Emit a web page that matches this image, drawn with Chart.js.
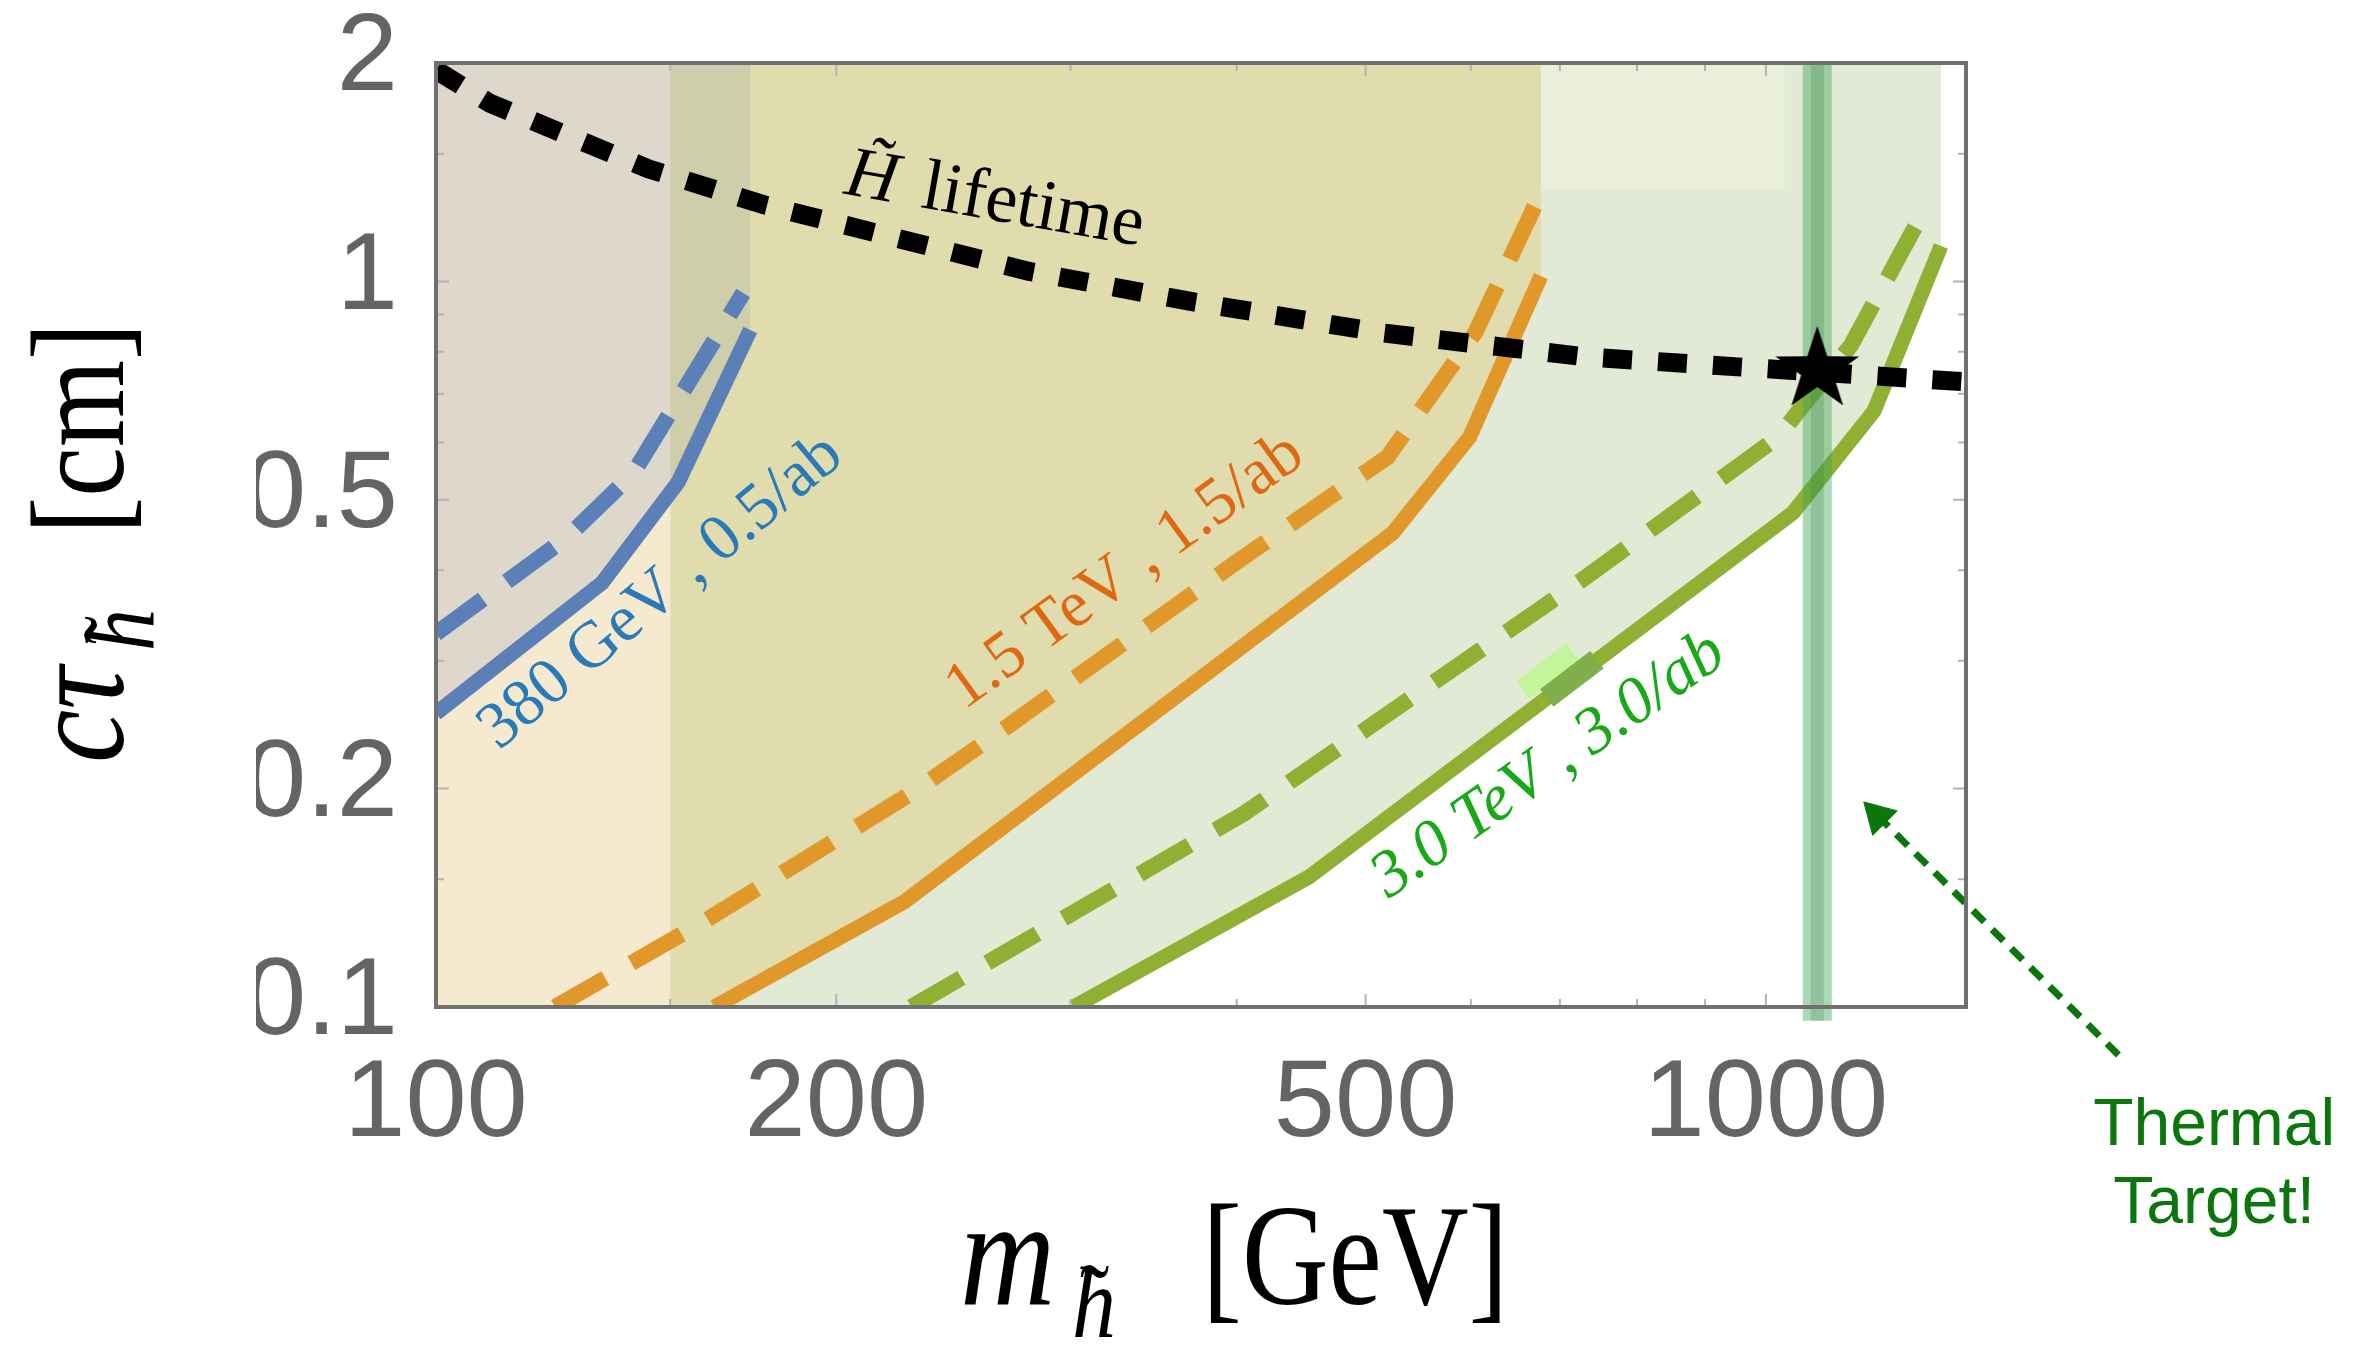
<!DOCTYPE html>
<html>
<head>
<meta charset="utf-8">
<title>Higgsino lifetime reach</title>
<script src="https://cdn.jsdelivr.net/npm/chart.js"></script>
<style>
html,body{margin:0;padding:0;background:#ffffff;overflow:hidden;}
#wrap{position:relative;width:2368px;height:1347px;}
canvas{display:block;}
</style>
</head>
<body>
<div id="wrap"><canvas id="chart" width="2368" height="1347"></canvas></div>
<script>
// ===== values =====
const xTickValues = [100, 200, 500, 1000];
const xTickLabels = ['100', '200', '500', '1000'];
const xMinorValues = [150, 300, 400, 600, 700, 800, 900];
const yTickValues = [0.1, 0.2, 0.5, 1, 2];
const yTickLabels = ['0.1', '0.2', '0.5', '1', '2'];
const yMinorValues = [0.15, 0.3, 0.4, 0.6, 0.7, 0.8, 0.9, 1.5];

// 380 GeV, 0.5/ab
const blueSolidM  = [100, 133.3, 152.1, 172.3];
const blueSolidCt = [0.254, 0.384, 0.529, 0.857];
const blueDashM   = [100, 125.5, 140.7, 170.2];
const blueDashCt  = [0.327, 0.444, 0.544, 0.964];

// 1.5 TeV, 1.5/ab
const orangeSolidM  = [161.9, 224.9, 524.1, 598.7, 677.3];
const orangeSolidCt = [0.1, 0.1396, 0.450, 0.610, 1.017];
const orangeDashM   = [122.9, 159.7, 227.7, 269.4, 395.8, 519.5, 605.0, 677.3];
const orangeDashCt  = [0.1, 0.1318, 0.197, 0.244, 0.405, 0.573, 0.852, 1.324];

// 3.0 TeV, 3.0/ab
const greenSolidM  = [301.6, 453.1, 1048, 1206, 1354];
const greenSolidCt = [0.1, 0.151, 0.480, 0.663, 1.119];
const greenDashM   = [227.7, 405.5, 732.1, 1021, 1159, 1249, 1319];
const greenDashCt  = [0.1, 0.185, 0.391, 0.610, 0.817, 1.053, 1.266];

// Higgsino lifetime
const lifetimeM  = [100, 109.8, 144.4, 176.8, 278.8, 371.2, 515.9, 732.1, 1093, 1414];
const lifetimeCt = [1.956, 1.760, 1.430, 1.274, 1.033, 0.937, 0.849, 0.787, 0.750, 0.727];

// shaded regions / patches
const lowMassM  = [100, 150];
const lowMassCt = [0.1, 0.1];
const regionStartM = [150];
const regionStartCt = [0.1];
const blueOverlapM  = [150, 152.1, 172.3];
const blueOverlapCt = [0.513, 0.529, 0.857];
const topPatchM  = [677.3, 1033];
const topPatchCt = [1.336, 1.336];
const markLightM  = [656.5, 715.8];
const markLightCt = [0.2735, 0.3085];
const markDarkM   = [684.3, 746.2];
const markDarkCt  = [0.2667, 0.3009];

// thermal target
const thermalM = [1093, 1093];
const thermalCt = [2, 0.0957];
const starM = [1093];
const starCt = [0.755];
const arrowM  = [1841, 1214];
const arrowCt = [0.0859, 0.1833];

// ===== helpers =====
const P = (xs, ys) => xs.map((x, i) => ({x, y: ys[i]}));
const layers = [];   // bottom -> top
function line(data, o) {
  layers.push(Object.assign({
    data, showLine: true, pointRadius: 0, pointHoverRadius: 0, pointHitRadius: 0,
    tension: 0, fill: false, borderCapStyle: 'butt', borderJoinStyle: 'miter'
  }, o));
}
function region(data, color) {
  line(data, {fill: 'end', backgroundColor: color, borderColor: 'rgba(0,0,0,0)', borderWidth: 0});
}
function makeStar(R, r) {
  const c = document.createElement('canvas');
  c.width = c.height = 2 * R + 4;
  const g = c.getContext('2d');
  g.translate(R + 2, R + 2);
  g.beginPath();
  for (let i = 0; i < 10; i++) {
    const rad = i % 2 ? r : R;
    const a = -Math.PI / 2 + i * Math.PI / 5;
    g.lineTo(rad * Math.cos(a), rad * Math.sin(a));
  }
  g.closePath();
  g.fillStyle = '#000';
  g.fill();
  return c;
}

const BLUE = '#5b80b7', ORANGE = '#e0982a', GREEN = '#8fb032';
const DASH = [58, 30];

region(P(regionStartM.concat(greenSolidM), regionStartCt.concat(greenSolidCt)), '#e2ead5');
region(P(regionStartM.concat(orangeSolidM), regionStartCt.concat(orangeSolidCt)), '#e0dcae');
region(P(topPatchM, topPatchCt), '#e9efd8');
region(P(lowMassM, lowMassCt), '#f5ead0');
region(P(blueSolidM, blueSolidCt), '#ded7cb');
region(P(blueOverlapM, blueOverlapCt), '#cfceaa');

line(P(blueDashM, blueDashCt), {borderColor: BLUE, borderWidth: 16, borderDash: DASH});
line(P(blueSolidM, blueSolidCt), {borderColor: BLUE, borderWidth: 15});
line(P(orangeDashM, orangeDashCt), {borderColor: ORANGE, borderWidth: 16, borderDash: DASH});
line(P(orangeSolidM, orangeSolidCt), {borderColor: ORANGE, borderWidth: 15});
line(P(markLightM, markLightCt), {borderColor: '#c3f59d', borderWidth: 22});
line(P(greenDashM, greenDashCt), {borderColor: GREEN, borderWidth: 16, borderDash: DASH});
line(P(greenSolidM, greenSolidCt), {borderColor: GREEN, borderWidth: 15});
line(P(markDarkM, markDarkCt), {borderColor: '#7fae4b', borderWidth: 22});
line(P(thermalM, thermalCt), {borderColor: 'rgba(62,168,88,0.45)', borderWidth: 29, clip: false});
line(P(thermalM, thermalCt), {borderColor: 'rgba(60,105,55,0.2)', borderWidth: 13, clip: false});
line(P(lifetimeM, lifetimeCt), {borderColor: '#000', borderWidth: 19, borderDash: [29, 26]});
layers.push({data: P(starM, starCt), showLine: false, pointStyle: makeStar(44, 17), pointRadius: 45, pointHoverRadius: 45});
line(P(arrowM, arrowCt), {borderColor: '#0b760b', borderWidth: 7, borderDash: [16, 11], clip: false});
layers.push({data: P(arrowM.slice(1), arrowCt.slice(1)), showLine: false, pointStyle: 'triangle',
  pointRadius: 20, pointHoverRadius: 20, rotation: -45, backgroundColor: '#0b760b', borderColor: '#0b760b', borderWidth: 1});
layers.forEach((d, i) => { d.order = layers.length - 1 - i; });

// curve labels (anchored in data coordinates)
const curveLabels = [
  {text: '380 GeV , 0.5/ab', m: 147.7, ct: 0.373, angle: -40, color: '#2a7ab9', font: '66px "Liberation Serif"'},
  {text: '1.5 TeV , 1.5/ab', m: 329.9, ct: 0.398, angle: -36, color: '#dd6a12', font: '66px "Liberation Serif"'},
  {text: '3.0 TeV , 3.0/ab', m: 686.8, ct: 0.215, angle: -35, color: '#18a818', font: 'italic 66px "Liberation Serif"'}
];

function stretched(ctx, s, x, y, font, sy) {
  ctx.save();
  ctx.translate(x, y);
  ctx.scale(1, sy);
  ctx.font = font;
  ctx.fillText(s, 0, 0);
  ctx.restore();
}

const decor = {
  id: 'decor',
  afterDatasetsDraw(chart) {
    const {ctx, chartArea: a} = chart;
    const xs = chart.scales.x, ys = chart.scales.y;
    ctx.save();
    // inward ticks on all four sides
    ctx.strokeStyle = '#b3b3b3';
    ctx.lineWidth = 2;
    ctx.beginPath();
    xTickValues.concat(xMinorValues).forEach(v => {
      const p = xs.getPixelForValue(v);
      const L = xTickValues.includes(v) ? 13 : 8;
      ctx.moveTo(p, a.bottom); ctx.lineTo(p, a.bottom - L);
      ctx.moveTo(p, a.top); ctx.lineTo(p, a.top + L);
    });
    yTickValues.concat(yMinorValues).forEach(v => {
      const p = ys.getPixelForValue(v);
      const L = yTickValues.includes(v) ? 13 : 8;
      ctx.moveTo(a.left, p); ctx.lineTo(a.left + L, p);
      ctx.moveTo(a.right, p); ctx.lineTo(a.right - L, p);
    });
    ctx.stroke();
    // frame
    ctx.strokeStyle = '#707070';
    ctx.lineWidth = 4;
    ctx.strokeRect(a.left, a.top, a.right - a.left, a.bottom - a.top);

    // curve labels
    curveLabels.forEach(l => {
      ctx.save();
      ctx.translate(xs.getPixelForValue(l.m), ys.getPixelForValue(l.ct));
      ctx.rotate(l.angle * Math.PI / 180);
      ctx.font = l.font;
      ctx.fillStyle = l.color;
      ctx.textAlign = 'center';
      ctx.textBaseline = 'middle';
      ctx.fillText(l.text, 0, 0);
      ctx.restore();
    });

    // H~ lifetime label (descends to the right, above the dotted line)
    ctx.save();
    ctx.translate(xs.getPixelForValue(263.4), ys.getPixelForValue(1.307));
    ctx.rotate(10 * Math.PI / 180);
    ctx.fillStyle = '#000';
    const fI = 'italic 72px "Liberation Serif"', fR = '72px "Liberation Serif"';
    ctx.font = fI; const wH = ctx.measureText('H').width;
    ctx.font = fR; const wL = ctx.measureText(' lifetime').width;
    const x0 = -(wH + wL + 8) / 2, b0 = 23;
    ctx.font = fI; ctx.fillText('H', x0, b0);
    ctx.font = fR; ctx.textAlign = 'center'; ctx.fillText('\u02DC', x0 + wH * 0.62, b0 - 13);
    ctx.textAlign = 'left'; ctx.fillText(' lifetime', x0 + wH + 8, b0);
    ctx.restore();

    // Thermal Target!
    ctx.save();
    ctx.fillStyle = '#0b760b';
    ctx.font = '66px "Liberation Sans"';
    ctx.textAlign = 'center';
    ctx.textBaseline = 'middle';
    ctx.fillText('Thermal', xs.getPixelForValue(2173), ys.getPixelForValue(0.0683));
    ctx.fillText('Target!', xs.getPixelForValue(2173), ys.getPixelForValue(0.0533));
    ctx.restore();

    // x axis title: m_h~ [GeV]
    ctx.fillStyle = '#000';
    const tx = a.left + 524, ty = a.bottom + 297;
    stretched(ctx, 'm', tx, ty, 'italic 132px "Liberation Serif"', 1.15);
    stretched(ctx, 'h', tx + 112, ty + 33, 'italic 88px "Liberation Serif"', 1.15);
    stretched(ctx, '\u02DC', tx + 120, ty + 30, '88px "Liberation Serif"', 1.15);
    stretched(ctx, '[GeV]', tx + 242, ty, '120px "Liberation Serif"', 1.2);

    // y axis title: c tau_h~ [cm] (rotated)
    ctx.save();
    ctx.translate(a.left - 313, a.top + 700);
    ctx.rotate(-Math.PI / 2);
    stretched(ctx, 'c\u03C4', 0, 0, 'italic 120px "Liberation Serif"', 1.15);
    stretched(ctx, 'h', 112, 30, 'italic 84px "Liberation Serif"', 1.15);
    stretched(ctx, '\u02DC', 119, 27, '84px "Liberation Serif"', 1.15);
    stretched(ctx, '[cm]', 229, 0, '112px "Liberation Serif"', 1.2);
    ctx.restore();

    ctx.restore();
  }
};

new Chart(document.getElementById('chart'), {
  type: 'scatter',
  data: {datasets: layers},
  options: {
    responsive: false,
    maintainAspectRatio: false,
    animation: false,
    devicePixelRatio: 1,
    events: [],
    layout: {padding: {left: 256, top: 63, right: 402, bottom: 190}},
    plugins: {legend: {display: false}, tooltip: {enabled: false}},
    scales: {
      x: {
        type: 'logarithmic', position: 'bottom', min: 100, max: 1414,
        grid: {display: false, drawTicks: false}, border: {display: false},
        afterBuildTicks: s => { s.ticks = xTickValues.map(v => ({value: v})); },
        afterFit: s => { s.height = 150; s.paddingLeft = 0; s.paddingRight = 0; },
        ticks: {
          autoSkip: false, maxRotation: 0, minRotation: 0, padding: 33,
          color: '#646464', font: {family: 'Liberation Sans', size: 110},
          callback: v => { const i = xTickValues.indexOf(v); return i >= 0 ? xTickLabels[i] : ''; }
        }
      },
      y: {
        type: 'logarithmic', position: 'left', min: 0.1, max: 2,
        grid: {display: false, drawTicks: false}, border: {display: false},
        afterBuildTicks: s => { s.ticks = yTickValues.map(v => ({value: v})); },
        afterFit: s => { s.width = 180; s.paddingTop = 0; s.paddingBottom = 0; },
        ticks: {
          autoSkip: false, padding: 38, labelOffset: -3,
          color: '#646464', font: {family: 'Liberation Sans', size: 110},
          callback: v => { const i = yTickValues.indexOf(v); return i >= 0 ? yTickLabels[i] : ''; }
        }
      }
    }
  },
  plugins: [decor]
});
</script>
</body>
</html>
